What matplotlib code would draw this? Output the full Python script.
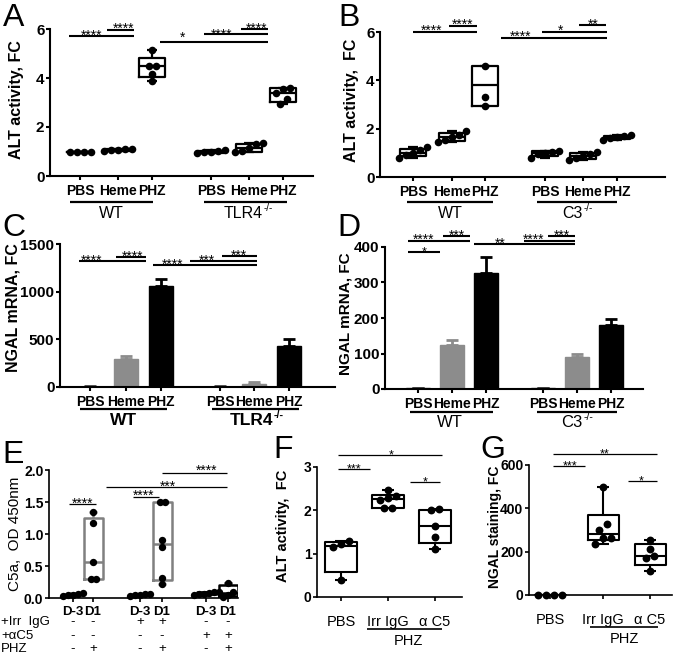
import numpy as np
import matplotlib
matplotlib.use('Agg')
import matplotlib.pyplot as plt
from matplotlib.lines import Line2D

plt.rcParams['font.family'] = ['Liberation Sans', 'DejaVu Sans']

# ------------------------------------------------------------------ data
trt_labels = ['PBS', 'Heme', 'PHZ', 'PBS', 'Heme', 'PHZ']

# A: ALT activity, WT vs TLR4-/-
A_wt_pbs = [1.0, 1.0, 1.0, 1.0]
A_wt_heme = [1.03, 1.05, 1.07, 1.10, 1.12]
A_wt_phz = [3.89, 4.17, 4.50, 4.50, 5.13]
A_tlr_pbs = [0.93, 0.97, 1.00, 1.02, 1.06]
A_tlr_heme = [0.97, 1.02, 1.15, 1.30, 1.33]
A_tlr_phz = [2.93, 3.14, 3.40, 3.55, 3.60]

# B: ALT activity, WT vs C3-/-
B_wt_pbs = [0.78, 0.92, 1.00, 1.10, 1.25]
B_wt_heme = [1.45, 1.55, 1.65, 1.75, 1.90]
B_wt_phz = [2.93, 3.30, 4.60]
B_wt_phz_median = 3.82
B_c3_pbs = [0.78, 0.95, 1.00, 1.05, 1.08]
B_c3_heme = [0.70, 0.80, 0.88, 0.95, 1.05]
B_c3_phz = [1.55, 1.60, 1.65, 1.68, 1.72]

# C: NGAL mRNA, WT vs TLR4-/-
C_mean = [5, 297, 1056, 5, 35, 433]
C_sem = [2, 25, 77, 2, 14, 70]

# D: NGAL mRNA, WT vs C3-/-
D_mean = [2, 124, 328, 2, 91, 179]
D_sem = [1, 13, 44, 1, 9, 17]

# E: C5a OD 450nm
E_labels = ['D-3', 'D1', 'D-3', 'D1', 'D-3', 'D1']
E_g1_d3 = [0.03, 0.05, 0.05, 0.06, 0.08]
E_g1_d1 = [0.29, 0.29, 0.56, 1.17, 1.34]
E_g2_d3 = [0.03, 0.05, 0.05, 0.06, 0.07]
E_g2_d1 = [0.22, 0.31, 0.79, 0.90, 1.50, 1.50]
E_g3_d3 = [0.04, 0.06, 0.07, 0.08, 0.09, 0.10]
E_g3_d1 = [0.02, 0.05, 0.10, 0.24]
E_row_names = ['+Irr  IgG', '+\u03b1C5', 'PHZ']
E_row_irr = ['-', '-', '+', '+', '-', '-']
E_row_ac5 = ['-', '-', '-', '-', '+', '+']
E_row_phz = ['-', '+', '-', '+', '-', '+']

# F: ALT activity, anti-C5
FG_labels = ['PBS', 'Irr IgG', '\u03b1 C5']
F_pbs = [0.40, 1.15, 1.22, 1.30]
F_irr = [2.05, 2.05, 2.25, 2.29, 2.32, 2.47]
F_ac5 = [1.10, 1.38, 1.63, 2.00, 2.03]

# G: NGAL staining
G_pbs = [0, 0, 0, 0]
G_irr = [235, 262, 265, 300, 327, 497]
G_ac5 = [110, 170, 180, 212, 255]

# ------------------------------------------------------------------ figure
W, H = 677, 658
fig = plt.figure(figsize=(W / 100, H / 100), dpi=100)
renderer = fig.canvas.get_renderer()


def new_ax(l, r, t, b, ylim, yticks, lw, ytick_fs, yfmt=None):
    ax = fig.add_axes([l / W, 1 - b / H, (r - l) / W, (b - t) / H])
    ax.set_xlim(l, r)
    ax.set_ylim(*ylim)
    ax.set_yticks(yticks)
    if yfmt:
        ax.set_yticklabels([yfmt.format(v) for v in yticks])
    for s in ['top', 'right']:
        ax.spines[s].set_visible(False)
    for s in ['left', 'bottom']:
        ax.spines[s].set_linewidth(lw)
    ax.tick_params(axis='both', width=lw, length=3, direction='out')
    ax.tick_params(axis='y', pad=1, labelsize=ytick_fs)
    for lab in ax.get_yticklabels():
        lab.set_fontweight('bold')
    ax.patch.set_alpha(0)
    ax.geom = (t, b, ylim)
    return ax


def ydat(ax, ypx):
    t, b, (y0, y1) = ax.geom
    return y0 + (b - ypx) / (b - t) * (y1 - y0)


def ypix(ax, y):
    t, b, (y0, y1) = ax.geom
    return b - (y - y0) / (y1 - y0) * (b - t)


def swarm(ax, x, vals, d):
    v = np.sort(np.asarray(vals, float))
    pxs = [ypix(ax, y) for y in v]
    rows = [[0]]
    for i in range(1, len(v)):
        if abs(pxs[i] - pxs[rows[-1][-1]]) < d * 0.8:
            rows[-1].append(i)
        else:
            rows.append([i])
    xs = np.zeros(len(v))
    for r in rows:
        n = len(r)
        for k, i in enumerate(r):
            xs[i] = x + (k - (n - 1) / 2) * d
    return xs, v


def draw_boxes(ax, pos, data, width, colors, lw, d, msize, med_override=None):
    for i, (x, v) in enumerate(zip(pos, data)):
        v = np.asarray(v, float)
        q1, med, q3 = np.percentile(v, [25, 50, 75], method='weibull')
        if med_override and i in med_override:
            med = med_override[i]
        st = [dict(q1=q1, med=med, q3=q3, whislo=v.min(), whishi=v.max(), fliers=[])]
        pr = dict(color=colors[i], linewidth=lw, solid_capstyle='butt')
        ax.bxp(st, positions=[x], widths=width, capwidths=width * 0.4, showfliers=False,
               boxprops=dict(color=colors[i], linewidth=lw), medianprops=pr,
               whiskerprops=pr, capprops=pr, manage_ticks=False)
        xs, ys = swarm(ax, x, v, d)
        ax.scatter(xs, ys, s=msize, color='k', zorder=4, clip_on=False, linewidths=0)


def draw_bars(ax, pos, vals, errs, colors, width):
    for x, v, e, c in zip(pos, vals, errs, colors):
        ax.errorbar(x, v, yerr=[[0], [e]], fmt='none', ecolor=c, elinewidth=2,
                    capsize=4.5, capthick=2, zorder=1)
        ax.bar(x, v, width=width, color=c, edgecolor=c, linewidth=1, zorder=2)


def sig(ax, bars, lw, fs):
    for x1, x2, yl, txt, sx, sy in bars:
        y = ydat(ax, yl)
        ax.plot([x1, x2], [y, y], color='k', lw=lw, clip_on=False, solid_capstyle='butt')
        base = sy + 0.58 * fs * 100 / 72
        ax.text(sx, ydat(ax, base), txt, ha='center', va='baseline', fontsize=fs,
                clip_on=False)


def xticks(ax, pos, labels, fs, weight, pad):
    ax.set_xticks(pos)
    ax.set_xticklabels(labels, fontsize=fs, fontweight=weight)
    ax.tick_params(axis='x', pad=pad)


def fline(x1, x2, y, lw):
    fig.add_artist(Line2D([x1 / W, x2 / W], [1 - y / H, 1 - y / H], transform=fig.transFigure,
                          color='k', lw=lw, solid_capstyle='butt'))


def ftext(x, y, s, **kw):
    return fig.text(x / W, 1 - y / H, s, **kw)


def glabel(cx, ybase, main, sup=None, size=11.5, weight='normal'):
    t1 = ftext(0, 0, main, fontsize=size, fontweight=weight, ha='left', va='baseline')
    w1 = t1.get_window_extent(renderer).width
    w2 = 0
    if sup:
        t2 = ftext(0, 0, sup, fontsize=size * 0.62, fontweight=weight, ha='left', va='baseline')
        w2 = t2.get_window_extent(renderer).width
    x0 = cx - (w1 + w2) / 2
    t1.set_position((x0 / W, 1 - ybase / H))
    if sup:
        t2.set_position(((x0 + w1 + 0.5) / W, 1 - (ybase - size * 100 / 72 * 0.42) / H))


def ylab(cx, cy, s, size, weight):
    ftext(cx, cy, s, rotation=90, ha='center', va='center', fontsize=size, fontweight=weight)


def letter(x, y, s):
    ftext(x, y, s, fontsize=23, ha='left', va='top')


# ------------------------------------------------------------------ Panel A
axA = new_ax(50, 313, 29, 176, (0, 6), [0, 2, 4, 6], 1.5, 11)
posA = [80, 118, 152, 211, 249, 283]
draw_boxes(axA, posA, [A_wt_pbs, A_wt_heme, A_wt_phz, A_tlr_pbs, A_tlr_heme, A_tlr_phz],
           26, ['k'] * 6, 1.6, 7, 30)
xticks(axA, posA, trt_labels, 10, 'bold', 2.5)
sig(axA, [(69, 134, 36, '****', 92, 31.7), (107, 134, 30, '****', 124, 25),
          (160, 268, 42, '*', 183, 34), (204, 268, 34, '****', 222, 30.5),
          (241, 268, 29, '****', 257, 24.5)], 1.5, 10)
fline(70, 153, 202, 1.6)
fline(204, 287, 202, 1.6)
glabel(111, 218, 'WT', size=11.5)
glabel(248, 218, 'TLR4', '-/-', size=11.5)
ylab(17, 100, 'ALT activity, FC', 11.5, 'bold')
letter(3, 3, 'A')

# ------------------------------------------------------------------ Panel B
axB = new_ax(380, 665, 32, 177, (0, 6), [0, 2, 4, 6], 1.5, 11)
posB = [413, 452, 485, 545, 583, 617]
draw_boxes(axB, posB, [B_wt_pbs, B_wt_heme, B_wt_phz, B_c3_pbs, B_c3_heme, B_c3_phz],
           26, ['k'] * 6, 1.6, 7, 30, med_override={2: B_wt_phz_median})
xticks(axB, posB, trt_labels, 10, 'bold', 2.5)
sig(axB, [(413, 477, 32.3, '****', 432, 27), (449, 477, 26, '****', 463, 21),
          (501, 607, 37.7, '****', 521, 32.3), (542, 607, 32.3, '*', 561, 27),
          (579, 606, 25, '**', 593, 20.7)], 1.5, 10)
fline(407, 493, 202, 1.6)
fline(537, 617, 202, 1.6)
glabel(450, 218, 'WT', size=11.5)
glabel(577, 218, 'C3', '-/-', size=11.5)
ylab(352, 100, 'ALT activity,  FC', 11.5, 'bold')
letter(338, 3, 'B')

# ------------------------------------------------------------------ Panel C
GRAY = '#8c8c8c'
bar_colors = ['#444444', GRAY, 'k', '#444444', GRAY, 'k']
axC = new_ax(60, 335, 244, 387, (0, 1500), [0, 500, 1000, 1500], 1.5, 11)
posC = [90, 125.5, 160.5, 220, 254, 289]
draw_bars(axC, posC, C_mean, C_sem, bar_colors, 24)
xticks(axC, posC, trt_labels, 10, 'bold', 2.5)
sig(axC, [(79, 146, 261, '****', 92, 256.7), (116, 146, 256.7, '****', 133, 252.7),
          (153, 257, 265, '****', 173, 260.7), (190, 257, 260.7, '***', 207, 256.7),
          (222, 257, 255.7, '***', 239, 251.7)], 1.5, 10)
fline(80, 167, 409, 1.6)
fline(212, 299, 409, 1.6)
glabel(124, 425, 'WT', size=12.5, weight='bold')
glabel(256, 425, 'TLR4', '-/-', size=12.5, weight='bold')
ylab(13, 308, 'NGAL mRNA, FC', 11.5, 'bold')
letter(2, 213, 'C')

# ------------------------------------------------------------------ Panel D
axD = new_ax(385, 643, 247, 389, (0, 400), [0, 100, 200, 300, 400], 1.5, 11)
posD = [418, 452, 485.5, 543, 577, 611]
draw_bars(axD, posD, D_mean, D_sem, bar_colors, 24)
xticks(axD, posD, trt_labels, 10, 'bold', 2.5)
sig(axD, [(408, 470, 240.7, '****', 424, 236), (443, 470, 235.7, '***', 457, 231.7),
          (474, 575, 244, '**', 500, 240),
          (524, 575, 240.7, '****', 534, 236), (548, 575, 235.7, '***', 562, 231.7)], 1.5, 10)
sig(axD, [(408, 440, 251.7, '*', 424, 248.5)], 1.5, 9)
fline(410, 493, 412, 1.6)
fline(537, 617, 412, 1.6)
glabel(450, 427, 'WT', size=12)
glabel(577, 427, 'C3', '-/-', size=12)
ylab(345, 314, 'NGAL mRNA, FC', 11, 'bold')
letter(337, 213, 'D')

# ------------------------------------------------------------------ Panel E
axE = new_ax(49, 238, 470, 598, (0, 2), [0, 0.5, 1.0, 1.5, 2.0], 1.2, 10, '{:.1f}')
posE = [73, 93, 140, 162, 206, 228]
EG = '#808080'
draw_boxes(axE, posE, [E_g1_d3, E_g1_d1, E_g2_d3, E_g2_d1, E_g3_d3, E_g3_d1],
           19, [EG, EG, EG, EG, 'k', 'k'], 1.8, 5, 28)
xticks(axE, posE, E_labels, 9.5, 'bold', 2.5)
sig(axE, [(69, 96, 504, '****', 83, 499.3), (133, 159, 496.7, '****', 144, 492),
          (106, 227, 486.7, '***', 168, 482.7), (162, 227, 472.7, '****', 207, 466.7)], 0.9, 10)
for yrow, name, marks in zip([622.5, 636, 649], E_row_names, [E_row_irr, E_row_ac5, E_row_phz]):
    ftext(1, yrow, name, fontsize=9.5, ha='left', va='center')
    for x, m in zip(posE, marks):
        ftext(x, yrow, m, fontsize=9.5, ha='center', va='center')
ylab(15, 534, 'C5a,  OD 450nm', 11, 'normal')
letter(2, 440, 'E')

# ------------------------------------------------------------------ Panel F
axF = new_ax(317, 462, 467, 597, (0, 3), [0, 1, 2, 3], 1.2, 10)
posF = [341, 388, 435]
draw_boxes(axF, posF, [F_pbs, F_irr, F_ac5], 32, ['k'] * 3, 1.5, 8, 32)
xticks(axF, posF, FG_labels, 10.5, 'normal', 10)
sig(axF, [(338, 442, 455, '*', 391, 451), (338, 370, 469, '***', 354, 465),
          (410, 440, 482, '*', 425, 478)], 0.9, 9)
fline(367, 442, 629, 1.2)
glabel(408, 645, 'PHZ', size=10.5)
ylab(283, 526, 'ALT activity,  FC', 10.5, 'bold')
letter(273, 435, 'F')

# ------------------------------------------------------------------ Panel G
axG = new_ax(529, 672, 465, 595, (0, 600), [0, 200, 400, 600], 1.2, 10)
posG = [550, 603, 650]
draw_boxes(axG, posG, [G_pbs, G_irr, G_ac5], 31, ['k'] * 3, 1.5, 8, 32)
xticks(axG, posG, FG_labels, 10.5, 'normal', 10)
sig(axG, [(553, 657, 454, '**', 605, 450), (553, 585, 466, '***', 570, 462),
          (628, 657, 481, '*', 641, 477)], 0.9, 9)
fline(590, 658, 627, 1.2)
glabel(624, 643, 'PHZ', size=10.5)
ylab(495, 527, 'NGAL staining, FC', 10, 'bold')
letter(480, 435, 'G')

fig.savefig('out.png', dpi=100)
